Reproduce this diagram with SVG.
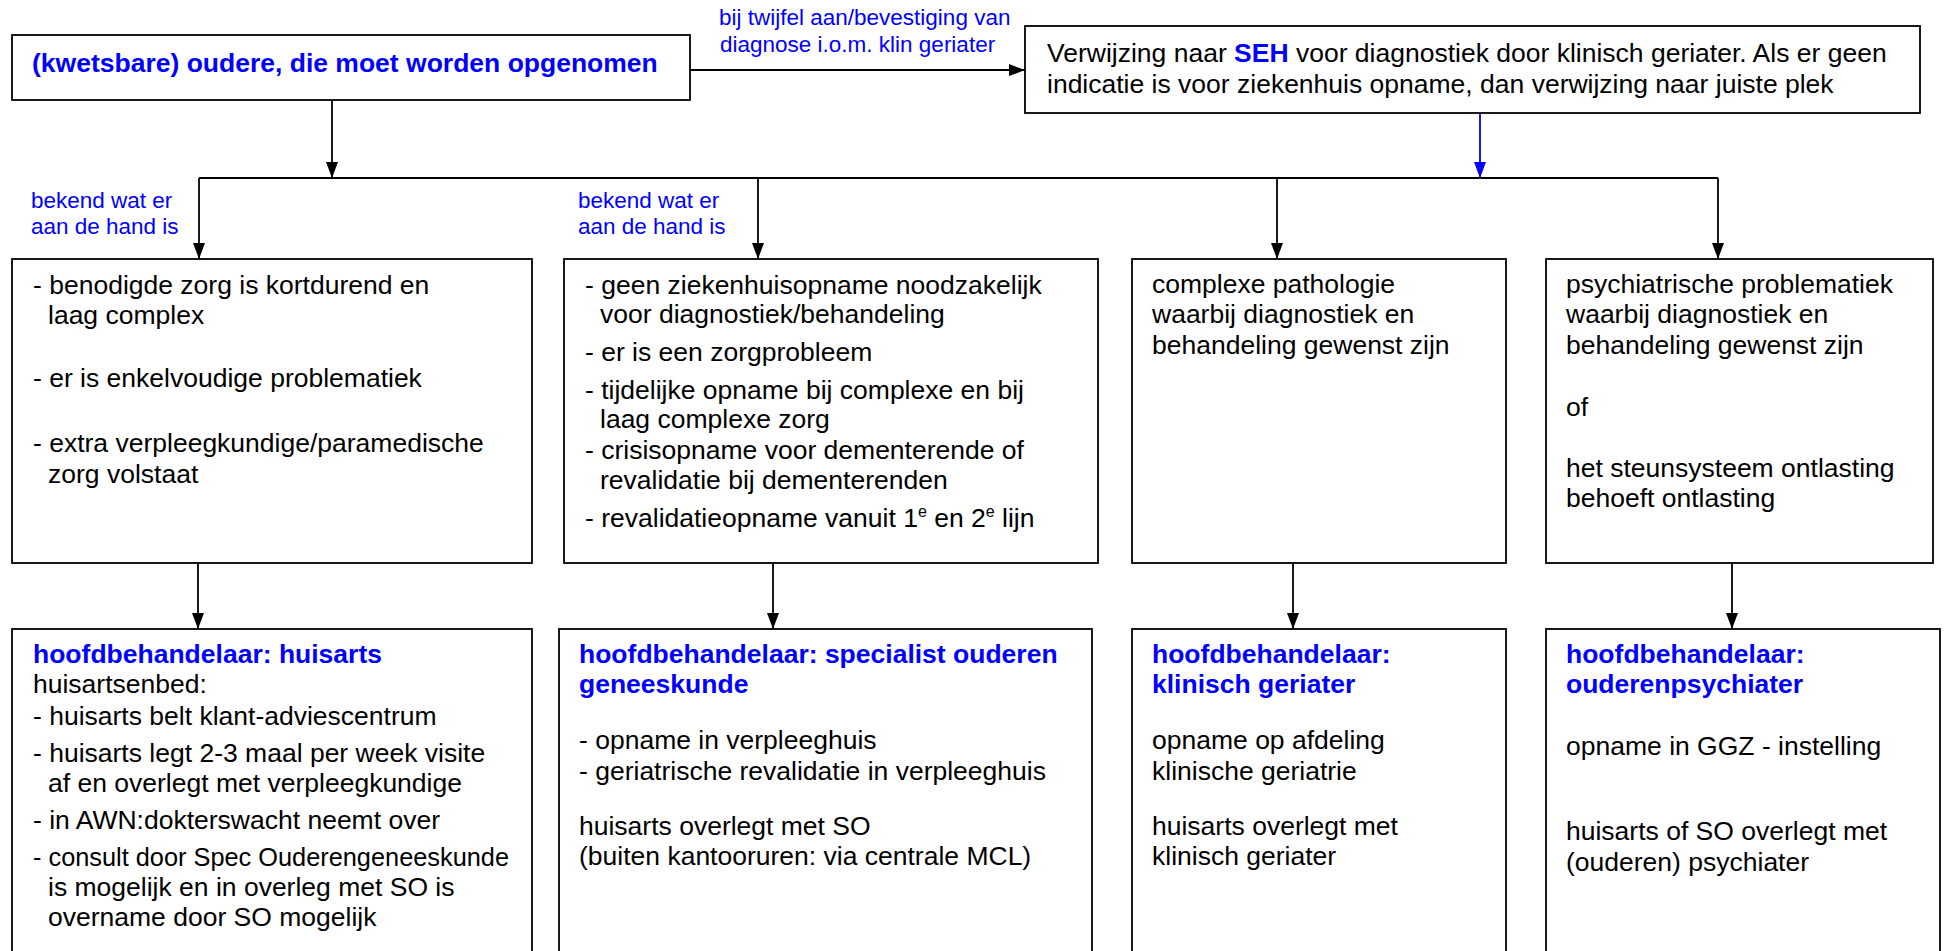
<svg xmlns="http://www.w3.org/2000/svg" width="1946" height="951" viewBox="0 0 1946 951">
<style>
.box{fill:#fff;stroke:#000;stroke-width:1.8}
.t{font-family:"Liberation Sans",Arial,sans-serif;font-size:26.5px;fill:#000}
.b{font-weight:bold;fill:#0000ff}
.lbl{font-family:"Liberation Sans",Arial,sans-serif;font-size:22.5px;fill:#0000ff}
.c{stroke:#000;stroke-width:1.8;fill:none}
.cb{stroke:#0000ff}
.sup{font-size:16px}
</style>
<defs>
<marker id="ah" markerUnits="userSpaceOnUse" viewBox="0 0 16 12" refX="16" refY="6" markerWidth="16" markerHeight="12" orient="auto"><path d="M0,0 L16,6 L0,12 z" fill="#000"/></marker>
<marker id="ahb" markerUnits="userSpaceOnUse" viewBox="0 0 16 12" refX="16" refY="6" markerWidth="16" markerHeight="12" orient="auto"><path d="M0,0 L16,6 L0,12 z" fill="#0000ff"/></marker>
</defs>
<rect width="1946" height="951" fill="#fff"/>

<g id="connectors">
<path class="c" d="M690,70 H1025" marker-end="url(#ah)"/>
<path class="c" d="M332,100 V178" marker-end="url(#ah)"/>
<path class="c cb" d="M1480,113 V178" marker-end="url(#ahb)"/>
<path class="c" d="M199,178 H1718"/>
<path class="c" d="M199,178 V259" marker-end="url(#ah)"/>
<path class="c" d="M758,178 V259" marker-end="url(#ah)"/>
<path class="c" d="M1277,178 V259" marker-end="url(#ah)"/>
<path class="c" d="M1718,178 V259" marker-end="url(#ah)"/>
<path class="c" d="M198,563 V629" marker-end="url(#ah)"/>
<path class="c" d="M773,563 V629" marker-end="url(#ah)"/>
<path class="c" d="M1293,563 V629" marker-end="url(#ah)"/>
<path class="c" d="M1732,563 V629" marker-end="url(#ah)"/>
<text class="lbl" x="719" y="25">bij twijfel aan/bevestiging van</text>
<text class="lbl" x="720" y="52">diagnose i.o.m. klin geriater</text>
<text class="lbl" x="31" y="208">bekend wat er</text>
<text class="lbl" x="31" y="234">aan de hand is</text>
<text class="lbl" x="578" y="208">bekend wat er</text>
<text class="lbl" x="578" y="234">aan de hand is</text>
</g>

<g id="start">
<rect class="box" x="12" y="35" width="678" height="65"/>
<text class="t b" x="32" y="72">(kwetsbare) oudere, die moet worden opgenomen</text>
</g>

<g id="seh">
<rect class="box" x="1025" y="26" width="895" height="87"/>
<text class="t" x="1047" y="62">Verwijzing naar <tspan class="b">SEH</tspan> voor diagnostiek door klinisch geriater. Als er geen</text>
<text class="t" x="1047" y="93">indicatie is voor ziekenhuis opname, dan verwijzing naar juiste plek</text>
</g>

<g id="crit1">
<rect class="box" x="12" y="259" width="520" height="304"/>
<text class="t" x="33" y="294">- benodigde zorg is kortdurend en</text>
<text class="t" x="48" y="324">laag complex</text>
<text class="t" x="33" y="387">- er is enkelvoudige problematiek</text>
<text class="t" x="33" y="452">- extra verpleegkundige/paramedische</text>
<text class="t" x="48" y="483">zorg volstaat</text>
</g>

<g id="crit2">
<rect class="box" x="564" y="259" width="534" height="304"/>
<text class="t" x="585" y="294">- geen ziekenhuisopname noodzakelijk</text>
<text class="t" x="600" y="323">voor diagnostiek/behandeling</text>
<text class="t" x="585" y="361">- er is een zorgprobleem</text>
<text class="t" x="585" y="399">- tijdelijke opname bij complexe en bij</text>
<text class="t" x="600" y="428">laag complexe zorg</text>
<text class="t" x="585" y="459">- crisisopname voor dementerende of</text>
<text class="t" x="600" y="489">revalidatie bij dementerenden</text>
<text class="t" x="585" y="527">- revalidatieopname vanuit 1<tspan class="sup" dy="-10">e</tspan><tspan dy="10"> en 2</tspan><tspan class="sup" dy="-10">e</tspan><tspan dy="10"> lijn</tspan></text>
</g>

<g id="crit3">
<rect class="box" x="1132" y="259" width="374" height="304"/>
<text class="t" x="1152" y="293">complexe pathologie</text>
<text class="t" x="1152" y="323">waarbij diagnostiek en</text>
<text class="t" x="1152" y="354">behandeling gewenst zijn</text>
</g>

<g id="crit4">
<rect class="box" x="1546" y="259" width="387" height="304"/>
<text class="t" x="1566" y="293">psychiatrische problematiek</text>
<text class="t" x="1566" y="323">waarbij diagnostiek en</text>
<text class="t" x="1566" y="354">behandeling gewenst zijn</text>
<text class="t" x="1566" y="416">of</text>
<text class="t" x="1566" y="477">het steunsysteem ontlasting</text>
<text class="t" x="1566" y="507">behoeft ontlasting</text>
</g>

<g id="huisarts">
<rect class="box" x="12" y="629" width="520" height="340"/>
<text class="t b" x="33" y="663">hoofdbehandelaar: huisarts</text>
<text class="t" x="33" y="693">huisartsenbed:</text>
<text class="t" x="33" y="725">- huisarts belt klant-adviescentrum</text>
<text class="t" x="33" y="762">- huisarts legt 2-3 maal per week visite</text>
<text class="t" x="48" y="792">af en overlegt met verpleegkundige</text>
<text class="t" x="33" y="829">- in AWN:dokterswacht neemt over</text>
<text class="t" x="33" y="866" textLength="476" lengthAdjust="spacingAndGlyphs">- consult door Spec Ouderengeneeskunde</text>
<text class="t" x="48" y="896">is mogelijk en in overleg met SO is</text>
<text class="t" x="48" y="926">overname door SO mogelijk</text>
</g>

<g id="specialist">
<rect class="box" x="559" y="629" width="533" height="340"/>
<text class="t b" x="579" y="663">hoofdbehandelaar: specialist ouderen</text>
<text class="t b" x="579" y="693">geneeskunde</text>
<text class="t" x="579" y="749">- opname in verpleeghuis</text>
<text class="t" x="579" y="780">- geriatrische revalidatie in verpleeghuis</text>
<text class="t" x="579" y="835">huisarts overlegt met SO</text>
<text class="t" x="579" y="865">(buiten kantooruren: via centrale MCL)</text>
</g>

<g id="geriater">
<rect class="box" x="1132" y="629" width="374" height="340"/>
<text class="t b" x="1152" y="663">hoofdbehandelaar:</text>
<text class="t b" x="1152" y="693">klinisch geriater</text>
<text class="t" x="1152" y="749">opname op afdeling</text>
<text class="t" x="1152" y="780">klinische geriatrie</text>
<text class="t" x="1152" y="835">huisarts overlegt met</text>
<text class="t" x="1152" y="865">klinisch geriater</text>
</g>

<g id="psychiater">
<rect class="box" x="1546" y="629" width="394" height="340"/>
<text class="t b" x="1566" y="663">hoofdbehandelaar:</text>
<text class="t b" x="1566" y="693">ouderenpsychiater</text>
<text class="t" x="1566" y="755">opname in GGZ - instelling</text>
<text class="t" x="1566" y="840">huisarts of SO overlegt met</text>
<text class="t" x="1566" y="871">(ouderen) psychiater</text>
</g>
</svg>
